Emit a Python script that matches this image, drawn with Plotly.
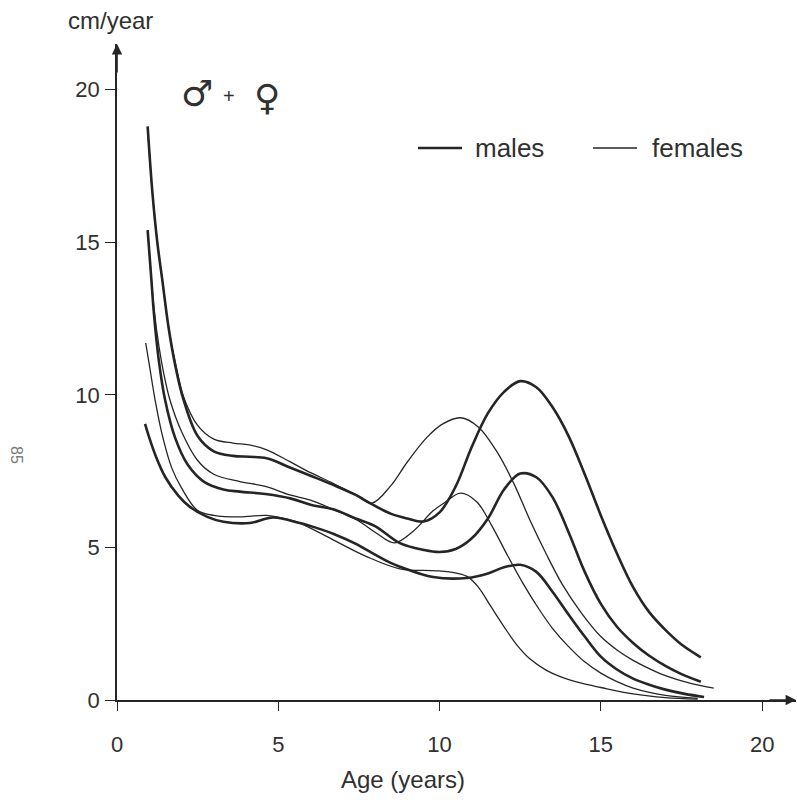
import plotly.graph_objects as go

# ---------------- data ----------------
m1_age = [0.95, 1.1, 1.25, 1.4, 1.6, 1.8, 2.06, 2.5, 3.0, 3.6, 4.1, 4.64, 5.36, 6.0, 6.7, 7.4, 7.9, 8.5, 9.0,
          9.5, 10.0, 10.5, 11.0, 11.5, 12.0, 12.5, 13.0, 13.5, 14.0, 14.5, 15.0, 15.5, 16.0, 16.5, 17.0, 17.5, 18.1]
m1_val = [18.8, 16.6, 15.0, 13.8, 12.2, 11.0, 9.85, 8.65, 8.15, 8.0, 7.97, 7.92, 7.62, 7.35, 7.05, 6.72, 6.42, 6.1, 5.95,
          5.85, 6.15, 7.0, 8.3, 9.4, 10.1, 10.45, 10.25, 9.6, 8.65, 7.4, 6.05, 4.8, 3.7, 2.88, 2.3, 1.82, 1.4]

f1_age = [0.95, 1.1, 1.25, 1.4, 1.6, 1.8, 2.06, 2.5, 3.0, 3.6, 4.1, 4.64, 5.36, 6.0, 6.7, 7.4, 7.9, 8.47, 9.0,
          9.6, 10.1, 10.65, 11.2, 11.8, 12.3, 12.8, 13.3, 13.8, 14.4, 15.0, 15.5, 16.0, 16.5, 17.0, 17.7, 18.5]
f1_val = [18.7, 16.6, 15.0, 13.8, 12.2, 11.1, 9.95, 9.0, 8.55, 8.42, 8.36, 8.2, 7.81, 7.45, 7.1, 6.72, 6.45, 7.0, 7.8,
          8.6, 9.05, 9.25, 8.95, 8.1, 7.1, 5.9, 4.8, 3.8, 2.85, 2.08, 1.64, 1.3, 1.03, 0.8, 0.57, 0.39]

m2_age = [0.95, 1.05, 1.15, 1.3, 1.49, 1.8, 2.2, 2.7, 3.3, 3.81, 4.6, 5.4, 6.0, 6.7, 7.4, 8.0, 8.77, 9.5, 10.0,
          10.5, 11.0, 11.5, 12.0, 12.5, 13.0, 13.5, 14.0, 14.5, 15.0, 15.5, 16.0, 16.5, 17.0, 17.5, 18.1]
m2_val = [15.4, 14.0, 12.6, 11.1, 9.84, 8.6, 7.7, 7.15, 6.9, 6.83, 6.75, 6.6, 6.4, 6.25, 5.95, 5.7, 5.14, 4.92, 4.85,
          4.95, 5.3, 5.95, 6.9, 7.42, 7.3, 6.65, 5.5, 4.2, 3.15, 2.4, 1.87, 1.45, 1.12, 0.85, 0.6]

f2_age = [0.95, 1.05, 1.15, 1.3, 1.45, 1.64, 2.0, 2.5, 3.0, 3.81, 4.6, 5.36, 6.0, 6.7, 7.44, 8.0, 8.6, 9.2, 9.8,
          10.2, 10.65, 11.15, 11.6, 12.1, 12.6, 13.1, 13.5, 14.0, 14.5, 15.0, 15.5, 16.0, 17.0, 18.0]
f2_val = [15.4, 14.0, 12.8, 11.6, 10.7, 9.84, 8.8, 7.85, 7.4, 7.16, 7.0, 6.72, 6.55, 6.25, 5.9, 5.5, 5.15, 5.55, 6.2,
          6.5, 6.78, 6.5, 5.75, 4.75, 3.8, 2.95, 2.35, 1.75, 1.25, 0.88, 0.6, 0.39, 0.15, 0.05]

m3_age = [0.87, 1.0, 1.2, 1.5, 1.9, 2.26, 2.8, 3.3, 4.12, 4.84, 5.67, 6.3, 6.7, 7.44, 7.74, 8.47, 8.77, 9.8, 10.85,
          11.5, 12.0, 12.5, 13.0, 13.5, 14.0, 14.5, 15.0, 15.5, 16.0, 16.5, 17.0, 17.6, 18.2]
m3_val = [9.05, 8.6, 8.0, 7.3, 6.7, 6.33, 6.0, 5.84, 5.8, 5.98, 5.8, 5.6, 5.45, 5.1, 4.92, 4.5, 4.37, 4.03, 4.0,
          4.15, 4.35, 4.43, 4.2, 3.55, 2.8, 2.08, 1.42, 1.0, 0.7, 0.5, 0.34, 0.2, 0.1]

f3_age = [0.89, 1.0, 1.18, 1.4, 1.7, 2.0, 2.48, 3.0, 3.81, 4.64, 5.36, 5.67, 6.7, 7.74, 8.77, 9.8, 10.3, 10.85,
          11.2, 11.6, 12.0, 12.4, 12.8, 13.3, 13.8, 14.4, 15.0, 16.0, 17.0, 18.0]
f3_val = [11.7, 11.0, 9.84, 8.7, 7.6, 6.95, 6.23, 6.05, 6.0, 6.05, 5.9, 5.8, 5.25, 4.7, 4.3, 4.24, 4.2, 4.05,
          3.7, 3.05, 2.4, 1.8, 1.35, 0.98, 0.74, 0.55, 0.41, 0.2, 0.08, 0.03]

x_ticks = [0, 5, 10, 15, 20]
y_ticks = [0, 5, 10, 15, 20]
x_tick_text = ["0", "5", "10", "15", "20"]
y_tick_text = ["0", "5", "10", "15", "20"]

# ---------------- figure ----------------
W, H = 797, 800
L, T, B = 117, 44, 100
X_MAX, Y_MAX = 21.05, 21.5
PW = W - L - 1
PH = H - T - B

INK = "#252525"
TXT = "#303030"
FONT = "Liberation Sans, Arial, Helvetica, sans-serif"

def px(xp):
    return (xp - L) / PW

def py(yp):
    return (H - B - yp) / PH

fig = go.Figure()
series = [
    (m1_age, m1_val, 2.6), (f1_age, f1_val, 1.3),
    (m2_age, m2_val, 2.6), (f2_age, f2_val, 1.3),
    (m3_age, m3_val, 2.6), (f3_age, f3_val, 1.3),
]
for ages, vals, w in series:
    fig.add_trace(go.Scatter(x=ages, y=vals, mode="lines",
                             line=dict(color=INK, width=w, shape="spline", smoothing=1.0),
                             showlegend=False, hoverinfo="skip"))

fig.update_layout(
    width=W, height=H,
    margin=dict(l=L, r=W - L - PW, t=T, b=B),
    paper_bgcolor="white", plot_bgcolor="white",
    font=dict(family=FONT, size=22, color=TXT),
    xaxis=dict(range=[0, X_MAX], showgrid=False, zeroline=False, showline=True,
               linecolor=INK, linewidth=1.6, ticks="outside", ticklen=9, tickwidth=1.4,
               tickcolor=INK, tickvals=x_ticks, ticktext=x_tick_text,
               ticklabelstandoff=15, tickfont=dict(size=22, color=TXT)),
    yaxis=dict(range=[0, Y_MAX], showgrid=False, zeroline=False, showline=True,
               linecolor=INK, linewidth=1.6, ticks="outside", ticklen=10, tickwidth=1.4,
               tickcolor=INK, tickvals=y_ticks, ticktext=y_tick_text,
               ticklabelstandoff=1, tickfont=dict(size=22, color=TXT)),
)

ann = []
# axis arrowheads
ann.append(dict(x=0, y=Y_MAX, xref="x", yref="y", ax=0, ay=30, axref="pixel", ayref="pixel",
                text="", showarrow=True, arrowhead=2, arrowsize=1.3, arrowwidth=1.6,
                arrowcolor=INK))
ann.append(dict(x=X_MAX, y=0, xref="x", yref="y", ax=-28, ay=0, axref="pixel", ayref="pixel",
                text="", showarrow=True, arrowhead=2, arrowsize=1.3, arrowwidth=1.6,
                arrowcolor=INK))
# axis titles
ann.append(dict(x=px(110), y=py(21), xref="paper", yref="paper", text="cm/year",
                showarrow=False, font=dict(size=24, color=TXT), xanchor="center", yanchor="middle"))
ann.append(dict(x=px(403), y=py(779), xref="paper", yref="paper", text="Age (years)",
                showarrow=False, font=dict(size=24, color=TXT), xanchor="center", yanchor="middle"))
# sex symbols
ann.append(dict(x=px(197), y=py(94), xref="paper", yref="paper", text="♂",
                showarrow=False, font=dict(size=36, color=TXT, family="DejaVu Sans"),
                xanchor="center", yanchor="middle"))
ann.append(dict(x=px(229), y=py(96), xref="paper", yref="paper", text="+",
                showarrow=False, font=dict(size=20, color=TXT), xanchor="center", yanchor="middle"))
ann.append(dict(x=px(267), y=py(98), xref="paper", yref="paper", text="♀",
                showarrow=False, font=dict(size=36, color=TXT, family="DejaVu Sans"),
                xanchor="center", yanchor="middle"))
# legend text
ann.append(dict(x=px(473), y=py(148), xref="paper", yref="paper", text="males",
                showarrow=False, font=dict(size=26, color=TXT), xanchor="left", yanchor="middle"))
ann.append(dict(x=px(650), y=py(148), xref="paper", yref="paper", text="females",
                showarrow=False, font=dict(size=26, color=TXT), xanchor="left", yanchor="middle"))
# page number from the scan
ann.append(dict(x=px(16), y=py(455), xref="paper", yref="paper", text="85", textangle=90,
                showarrow=False, font=dict(size=16, color="#777777"), xanchor="center", yanchor="middle"))
fig.update_layout(annotations=ann)

fig.update_layout(shapes=[
    dict(type="line", xref="paper", yref="paper", x0=px(418), x1=px(462), y0=py(148), y1=py(148),
         line=dict(color=INK, width=2.6)),
    dict(type="line", xref="paper", yref="paper", x0=px(593), x1=px(637), y0=py(148), y1=py(148),
         line=dict(color=INK, width=1.3)),
])

fig.write_html("out.html")
